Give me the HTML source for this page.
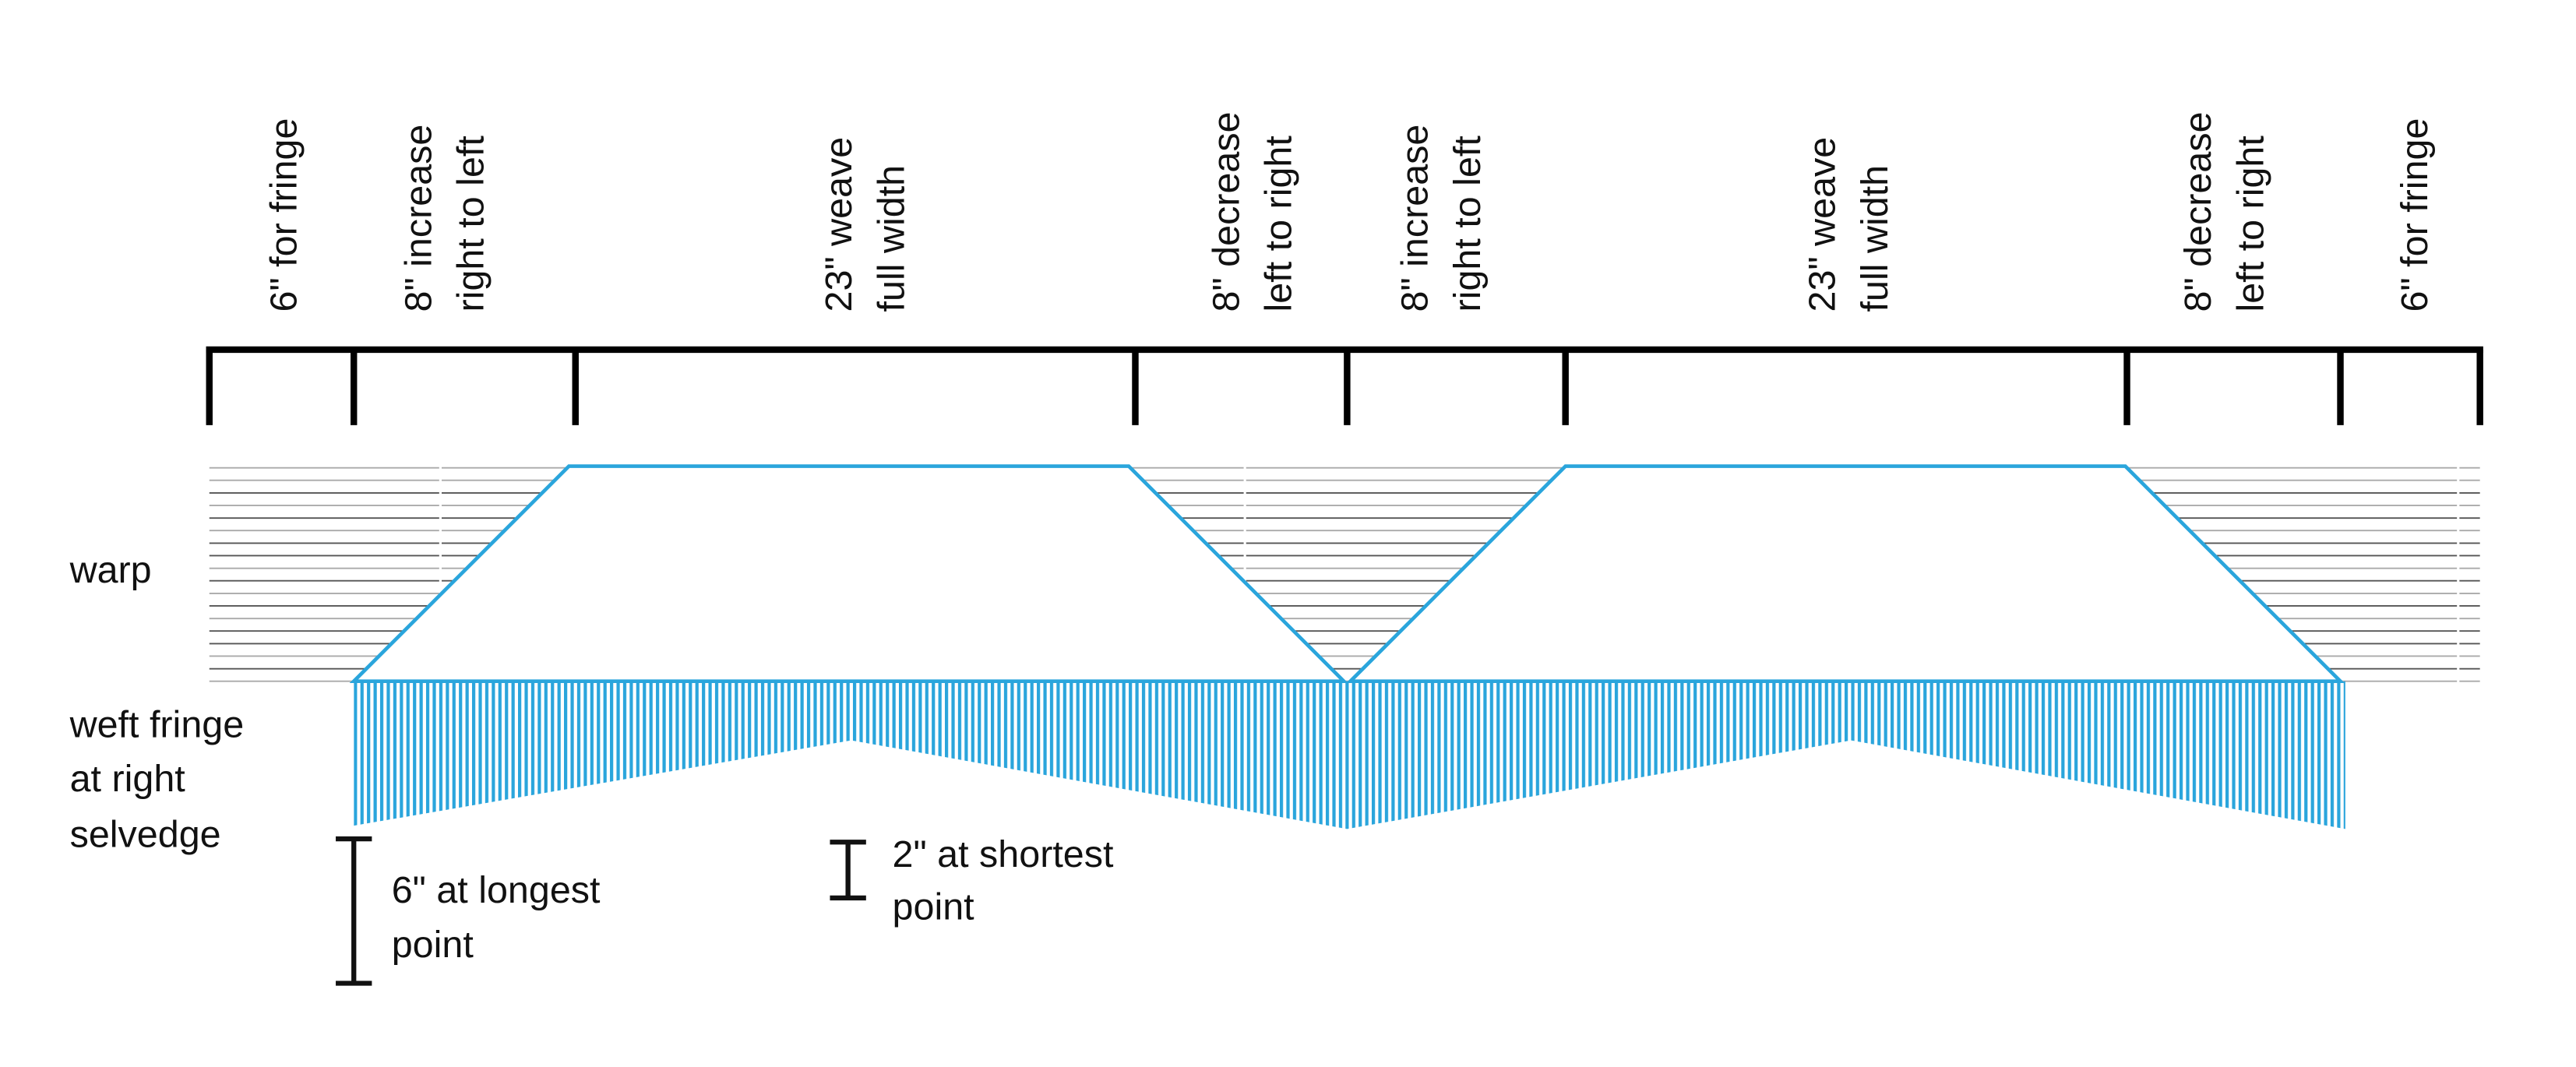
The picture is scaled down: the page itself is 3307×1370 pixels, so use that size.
<!DOCTYPE html>
<html><head><meta charset="utf-8"><style>
html,body{margin:0;padding:0;background:#fff;}
svg{display:block;}
text{font-family:"Liberation Sans",sans-serif;fill:#111;font-size:23px;}
</style></head><body>
<svg width="3307" height="1370" viewBox="0 0 1568 650" xmlns="http://www.w3.org/2000/svg">
<defs>
<pattern id="fr" x="215" y="0" width="4" height="10" patternUnits="userSpaceOnUse">
<rect x="0" y="0" width="2" height="10" fill="#2aa5dc"/>
</pattern>
</defs>
<rect width="1568" height="650" fill="#fff"/>
<!-- warp lines -->
<g stroke-width="0.9">
<line x1="127" x2="1510" y1="285" y2="285" stroke="#aaa"/>
<line x1="127" x2="1510" y1="292.6" y2="292.6" stroke="#aaa"/>
<line x1="127" x2="1510" y1="300.3" y2="300.3" stroke="#555"/>
<line x1="127" x2="1510" y1="307.9" y2="307.9" stroke="#aaa"/>
<line x1="127" x2="1510" y1="315.6" y2="315.6" stroke="#555"/>
<line x1="127" x2="1510" y1="323.2" y2="323.2" stroke="#aaa"/>
<line x1="127" x2="1510" y1="330.9" y2="330.9" stroke="#555"/>
<line x1="127" x2="1510" y1="338.5" y2="338.5" stroke="#555"/>
<line x1="127" x2="1510" y1="346.2" y2="346.2" stroke="#aaa"/>
<line x1="127" x2="1510" y1="353.8" y2="353.8" stroke="#555"/>
<line x1="127" x2="1510" y1="361.5" y2="361.5" stroke="#aaa"/>
<line x1="127" x2="1510" y1="369.1" y2="369.1" stroke="#555"/>
<line x1="127" x2="1510" y1="376.8" y2="376.8" stroke="#aaa"/>
<line x1="127" x2="1510" y1="384.4" y2="384.4" stroke="#555"/>
<line x1="127" x2="1510" y1="392.1" y2="392.1" stroke="#555"/>
<line x1="127" x2="1510" y1="399.7" y2="399.7" stroke="#aaa"/>
<line x1="127" x2="1510" y1="407.4" y2="407.4" stroke="#555"/>
<line x1="127" x2="1510" y1="415" y2="415" stroke="#aaa"/>
</g>
<!-- small gaps -->
<g fill="#fff">
<rect x="267" y="280" width="1.5" height="140"/>
<rect x="757" y="280" width="1.5" height="140"/>
<rect x="1496" y="280" width="1.5" height="140"/>
</g>
<!-- fringe -->
<polygon points="215,415 1428,415 1428,505 1127,451 820,505 518,451 215,503" fill="url(#fr)"/>
<!-- trapezoids -->
<g fill="#fff" stroke="#2aa5dc" stroke-width="2.2" stroke-linejoin="miter">
<polygon points="215,415 346,284 687,284 818,415"/>
<polygon points="822,415 953,284 1294,284 1425,415"/>
</g>
<!-- bracket -->
<g stroke="#000" stroke-width="4" fill="none">
<line x1="125" y1="213" x2="1512" y2="213"/>
<line x1="127" y1="213" x2="127" y2="259"/>
<line x1="215" y1="213" x2="215" y2="259"/>
<line x1="350" y1="213" x2="350" y2="259"/>
<line x1="691" y1="213" x2="691" y2="259"/>
<line x1="820" y1="213" x2="820" y2="259"/>
<line x1="953" y1="213" x2="953" y2="259"/>
<line x1="1295" y1="213" x2="1295" y2="259"/>
<line x1="1425" y1="213" x2="1425" y2="259"/>
<line x1="1510" y1="213" x2="1510" y2="259"/>
</g>
<!-- rotated labels -->
<g>
<text transform="translate(180,190) rotate(-90)">6" for fringe</text>
<text transform="translate(262,190) rotate(-90)">8" increase</text>
<text transform="translate(294,190) rotate(-90)">right to left</text>
<text transform="translate(518,190) rotate(-90)">23" weave</text>
<text transform="translate(550,190) rotate(-90)">full width</text>
<text transform="translate(754,190) rotate(-90)">8" decrease</text>
<text transform="translate(786,190) rotate(-90)">left to right</text>
<text transform="translate(869,190) rotate(-90)">8" increase</text>
<text transform="translate(901,190) rotate(-90)">right to left</text>
<text transform="translate(1117,190) rotate(-90)">23" weave</text>
<text transform="translate(1149,190) rotate(-90)">full width</text>
<text transform="translate(1346,190) rotate(-90)">8" decrease</text>
<text transform="translate(1378,190) rotate(-90)">left to right</text>
<text transform="translate(1478,190) rotate(-90)">6" for fringe</text>
</g>
<!-- left labels -->
<text x="42" y="355">warp</text>
<text x="42" y="449">weft fringe</text>
<text x="42" y="482">at right</text>
<text x="42" y="516">selvedge</text>
<!-- I-beams -->
<g stroke="#111" stroke-width="3">
<line x1="215" y1="511" x2="215" y2="599"/>
<line x1="204" y1="511" x2="226" y2="511"/>
<line x1="204" y1="599" x2="226" y2="599"/>
<line x1="516" y1="513" x2="516" y2="547"/>
<line x1="505" y1="513" x2="527" y2="513"/>
<line x1="505" y1="547" x2="527" y2="547"/>
</g>
<text x="238" y="550">6" at longest</text>
<text x="238" y="583">point</text>
<text x="543" y="528">2" at shortest</text>
<text x="543" y="560">point</text>
</svg>
</body></html>
